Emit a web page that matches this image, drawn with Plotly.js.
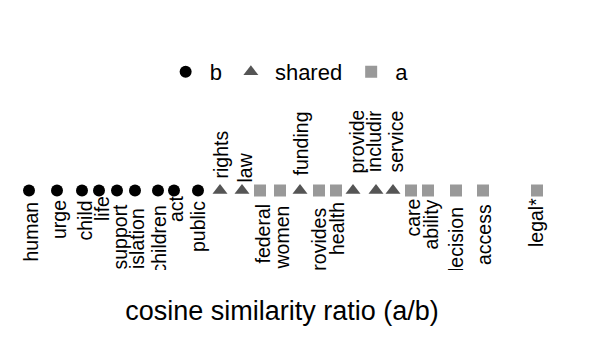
<!DOCTYPE html>
<html>
<head>
<meta charset="utf-8">
<script src="https://cdn.plot.ly/plotly-3.0.1.min.js"></script>
<style>
  html, body { margin: 0; padding: 0; background: #fff; }
  #chart { width: 610px; height: 351px; }
</style>
</head>
<body>
<div id="chart"></div>
<script>
// Words whose cosine similarity is closer to b
const bWords = ['human', 'urge', 'child', 'life', 'support', 'legislation', 'children', 'act', 'public'];
const bRatio = [29, 57, 82, 99, 117, 135, 158, 174, 198];

// Words shared by both
const sharedWords = ['rights', 'law', 'funding', 'provide', 'including', 'service'];
const sharedRatio = [220, 242, 300, 353, 376, 393];

// Words whose cosine similarity is closer to a
const aWords = ['federal', 'women', 'provides', 'health', 'care', 'ability', 'decision', 'access', 'legal*'];
const aRatio = [260, 280, 319, 336, 411, 428, 456, 483, 537];

const FONT = 'Liberation Sans, Arial, sans-serif';

// label placement (repelled text), pixel nudges [dx, distance from point]
const labelNudge = {
  human: [1, 11], urge: [2, 10], child: [2, 10], life: [3, 6], support: [2, 13],
  legislation: [2, 18], children: [0, 15], act: [2, 5], public: [0, 11],
  federal: [2, 13], women: [1, 15], provides: [-1, 17], health: [1, 12], care: [1, 8],
  ability: [2, 9], decision: [-1, 16], access: [1, 14], 'legal*': [-1, 8],
  rights: [0, 12], law: [2, 8], funding: [0, 15], provide: [3, 17], including: [-2, 18], service: [2, 18]
};

function zeros(n) { return new Array(n).fill(0); }

const data = [
  { type: 'scatter', mode: 'markers', name: 'b', x: bRatio, y: zeros(bRatio.length), text: bWords,
    marker: { symbol: 'circle', size: 12, color: '#000000' }, hoverinfo: 'text' },
  { type: 'scatter', mode: 'markers', name: 'shared', x: sharedRatio, y: zeros(sharedRatio.length), text: sharedWords,
    marker: { symbol: 'triangle-up', size: 13, color: '#555555' }, hoverinfo: 'text' },
  { type: 'scatter', mode: 'markers', name: 'a', x: aRatio, y: zeros(aRatio.length), text: aWords,
    marker: { symbol: 'square', size: 12, color: '#999999' }, hoverinfo: 'text' }
];

function labels(xs, words, above) {
  return xs.map((x, i) => {
    const n = labelNudge[words[i]] || [0, 10];
    return {
      x: x, y: 0, xref: 'x', yref: 'y', text: words[i], showarrow: false,
      textangle: -90, xanchor: 'center', yanchor: above ? 'bottom' : 'top',
      xshift: n[0], yshift: above ? (n[1] - 1) : -(n[1] - 1), borderpad: 0,
      font: { family: FONT, size: 19.5, color: '#000000' }
    };
  });
}

const annotations = [].concat(
  labels(bRatio, bWords, false),
  labels(sharedRatio, sharedWords, true),
  labels(aRatio, aWords, false)
);

const layout = {
  width: 610, height: 351,
  margin: { l: 0, r: 46, t: 111, b: 81, pad: 0 },
  paper_bgcolor: '#ffffff', plot_bgcolor: '#ffffff',
  font: { family: FONT, color: '#000000' },
  showlegend: true,
  legend: {
    orientation: 'h', x: 0.51, xanchor: 'center', y: 1.245, yanchor: 'middle', itemwidth: 38,
    font: { family: FONT, size: 22, color: '#000000' }, bgcolor: 'rgba(0,0,0,0)'
  },
  xaxis: {
    range: [0, 564], showgrid: false, zeroline: false, showline: false,
    showticklabels: false, ticks: '', fixedrange: true, automargin: false,
    title: { text: 'cosine similarity ratio (a/b)', font: { family: FONT, size: 27, color: '#000000' }, standoff: 31 }
  },
  yaxis: {
    range: [-1, 1], showgrid: false, zeroline: false, showline: false,
    showticklabels: false, ticks: '', fixedrange: true, automargin: false
  },
  annotations: annotations
};

const gd = document.getElementById('chart');
Plotly.newPlot(gd, data, layout, { staticPlot: true, displayModeBar: false }).then(() => {
  // clip word labels to the plotting panel, as in the reference
  const s = gd._fullLayout._size;
  const svg = gd.querySelector('svg.main-svg');
  const ns = 'http://www.w3.org/2000/svg';
  let defs = svg.querySelector('defs');
  if (!defs) { defs = document.createElementNS(ns, 'defs'); svg.insertBefore(defs, svg.firstChild); }
  const cp = document.createElementNS(ns, 'clipPath');
  cp.setAttribute('id', 'panelclip');
  const r = document.createElementNS(ns, 'rect');
  r.setAttribute('x', s.l); r.setAttribute('y', s.t);
  r.setAttribute('width', s.w); r.setAttribute('height', s.h);
  cp.appendChild(r); defs.appendChild(cp);
  gd.querySelectorAll('g.annotation').forEach(g => g.setAttribute('clip-path', 'url(#panelclip)'));
});
</script>
</body>
</html>
